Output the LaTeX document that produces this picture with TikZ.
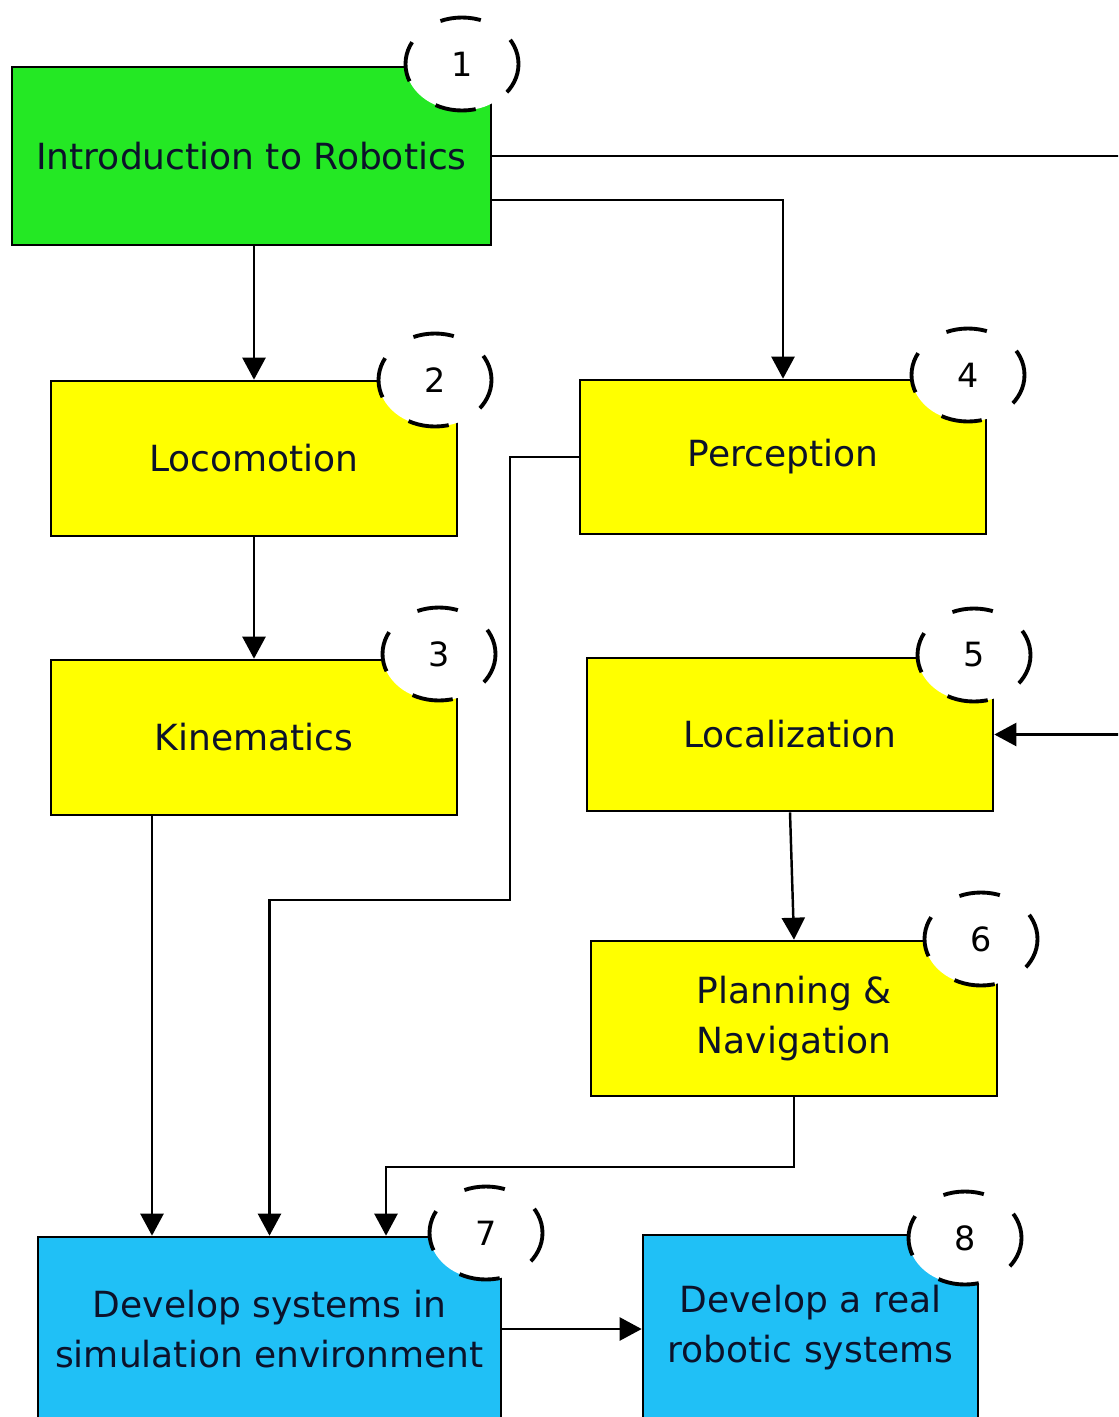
\documentclass[tikz,border=0pt]{standalone}
\usepackage{fontspec}
\setmainfont{DejaVu Sans}
\usetikzlibrary{%
  arrows.meta,%
  shapes.geometric,% wg. ellipse
  positioning,%
  calc
}
\definecolor{introgreen}{RGB}{36,232,36}
\definecolor{topicyellow}{RGB}{255,255,0}
\definecolor{devblue}{RGB}{32,192,246}
\definecolor{inktext}{RGB}{12,18,42}

\begin{document}
\begin{tikzpicture}
  [
  line width=1.4pt, draw=black, >={Triangle[length=0.44cm,width=0.46cm]},
  topicbox/.style={rectangle, draw=black, line width=1.5pt, inner sep=0pt,
    text=inktext, align=center, font=\fontsize{20.5pt}{28.5pt}\selectfont},
  numnode/.style={ellipse, draw=black, fill=white, line width=2.2pt,
    minimum width=2.26cm, minimum height=1.86cm, inner sep=0pt,
    dash pattern=on 0.82cm off 0.72cm, dash phase=0.3cm,
    font=\fontsize{19pt}{19pt}\selectfont},
  link/.style={->, line width=1.4pt}
  ]

  \useasboundingbox (0,0) rectangle (22.36,-28.34);
  \fill[white] (0,0) rectangle (22.36,-28.34);
  \clip (0,0) rectangle (22.36,-28.34);

  % topics
  \node[topicbox, fill=introgreen, minimum width=9.58cm, minimum height=3.56cm]
    (intro) at (5.03,-3.12) {Introduction to Robotics};
  \node[topicbox, fill=topicyellow, minimum width=8.12cm, minimum height=3.10cm]
    (loco) at (5.08,-9.17) {Locomotion};
  \node[topicbox, fill=topicyellow, minimum width=8.12cm, minimum height=3.10cm]
    (kine) at (5.08,-14.75) {Kinematics};
  \node[topicbox, fill=topicyellow, minimum width=8.12cm, minimum height=3.08cm]
    (perc) at (15.66,-9.14) {Perception};
  \node[topicbox, fill=topicyellow, minimum width=8.12cm, minimum height=3.06cm]
    (loca) at (15.80,-14.69) {Localization};
  \node[topicbox, fill=topicyellow, minimum width=8.12cm, minimum height=3.10cm]
    (plan) at (15.88,-20.37) {Planning \&\\Navigation};
  \node[topicbox, fill=devblue, minimum width=9.26cm, minimum height=3.68cm]
    (sim) at (5.39,-26.58) {Develop systems in\\simulation environment};
  \node[topicbox, fill=devblue, minimum width=6.70cm, minimum height=3.72cm]
    (real) at (16.21,-26.56) {Develop a real\\robotic systems};

  % bends
  \coordinate (offpage) at (23,-9);
  \coordinate (bendP) at (10.2,-18);
  \coordinate (bendN) at (7.72,-23.34);

  \draw[link] (loco.north |- intro.south) -- (loco.north);
  \draw[link] (loco.south) -- (kine.north);
  \draw[link] ([yshift=-0.88cm]intro.east) -| (perc.north);
  \draw[link] (intro.east) -| (offpage) |- (loca.east);
  \draw[link] (loca.south) -- (plan.north);
  \draw[link] (perc.west) -| (bendP) -| (sim.north);
  \draw[link] ([xshift=-2.04cm]kine.south) -- ([xshift=-2.04cm]kine.south |- sim.north);
  \draw[link] (plan.south) |- (bendN) -- (bendN |- sim.north);
  \draw[link] (sim.east) -- (sim.east -| real.west);

  % numbers
  \foreach \n/\pos in {1/{(9.24,-1.28)}, 2/{(8.70,-7.60)}, 3/{(8.78,-13.08)},
    4/{(19.36,-7.50)}, 5/{(19.48,-13.10)}, 6/{(19.62,-18.78)},
    7/{(9.72,-24.66)}, 8/{(19.30,-24.76)}} {
    \node[numnode] (num\n) at \pos {\n};
  }
\end{tikzpicture}
\end{document}
